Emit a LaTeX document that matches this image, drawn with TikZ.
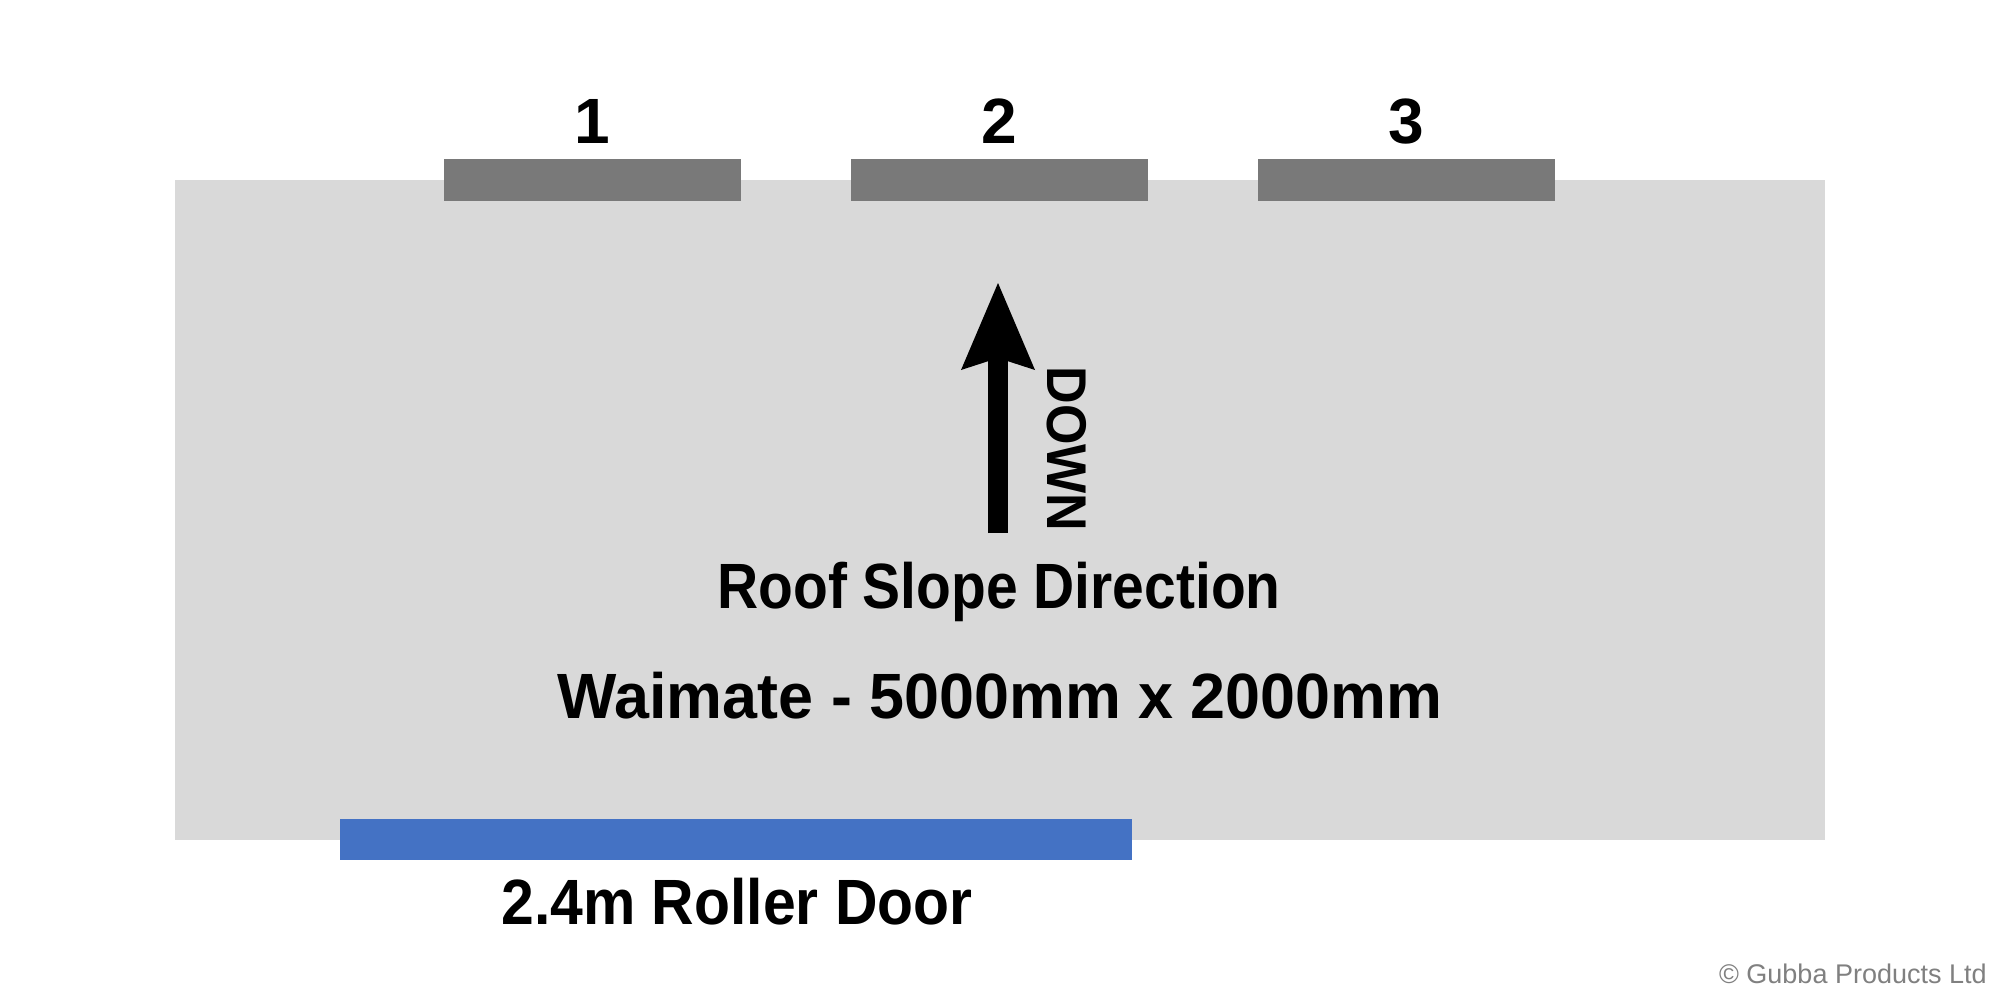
\documentclass[tikz,border=0pt]{standalone}
\usepackage{graphicx}
\usepackage{fontspec}
\setmainfont{Liberation Sans}
\usetikzlibrary{arrows.meta}
\definecolor{roofgray}{HTML}{D9D9D9}
\definecolor{wingray}{HTML}{797979}
\definecolor{doorblue}{HTML}{4472C4}
\definecolor{copygray}{HTML}{808080}
\begin{document}
\begin{tikzpicture}[x=0.5pt,y=-0.5pt,
  lbl/.style={inner sep=0pt, anchor=base, font=\fontsize{32}{36}\selectfont\bfseries},
  winbar/.style={fill=wingray},
  slopearrow/.style={line width=10pt, -{Stealth[length=43.5pt,width=37pt,inset=6pt,line width=0pt]}}]
\useasboundingbox[fill=white] (0,0) rectangle (2000,1000);
% shed outline
\fill[roofgray] (175,180) rectangle (1825,840);
% windows
\fill[winbar] (444,159) rectangle (741,201);
\fill[winbar] (851,159) rectangle (1148,201);
\fill[winbar] (1258,159) rectangle (1555,201);
% roller door
\fill[doorblue] (340,819) rectangle (1132,860);
% window labels
\node[lbl] (n1) at (592,144) {1};
\node[lbl] (n2) at (999,144) {2};
\node[lbl] (n3) at (1406,144) {3};
% slope arrow
\coordinate (tail) at (998,533);
\coordinate (tip) at (998,283);
\draw[slopearrow] (tail) -- (tip);
\node[font=\fontsize{28}{32}\selectfont\bfseries, rotate=-90, inner sep=0pt] (down) at (1067,449) {\scalebox{0.93}[1]{DOWN}};
% texts
\node[lbl] (roof) at (999,608) {\scalebox{0.89}[1]{Roof Slope Direction}};
\node[lbl] (size) at (1000,718) {\scalebox{0.982}[1]{Waimate - 5000mm x 2000mm}};
\node[lbl] (door) at (737,924) {\scalebox{0.92}[1]{2.4m Roller Door}};
\node[inner sep=0pt, anchor=base east, font=\fontsize{13.5}{15}\selectfont, text=copygray] (copy) at (1987,983) {© Gubba Products Ltd};
\end{tikzpicture}
\end{document}
